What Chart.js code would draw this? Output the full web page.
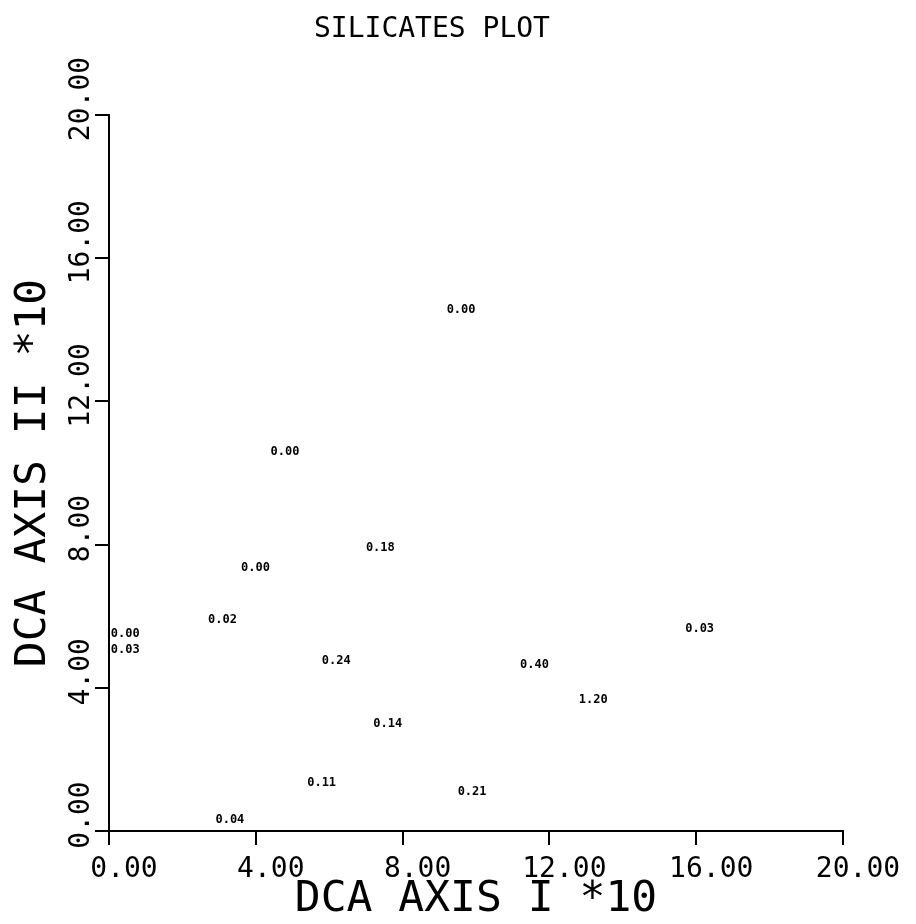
<!DOCTYPE html>
<html>
<head>
<meta charset="utf-8">
<script src="https://cdn.jsdelivr.net/npm/chart.js@4"></script>
<style>
  html, body { margin: 0; padding: 0; background: #fff; }
  #wrap { width: 916px; height: 924px; }
</style>
</head>
<body>
<div id="wrap"><canvas id="myChart"></canvas></div>
<script>
// sample positions (DCA axis scores *10)
const xValues = [0.05, 0.05, 2.7, 3.6, 4.4, 7.0, 5.8, 7.2, 5.4, 9.5, 2.9, 9.2, 11.2, 12.8, 15.7];
const yValues = [5.5, 5.05, 5.9, 7.35, 10.6, 7.9, 4.75, 3.0, 1.35, 1.1, 0.3, 14.55, 4.65, 3.65, 5.65];
const pointLabels = ['0.00', '0.03', '0.02', '0.00', '0.00', '0.18', '0.24', '0.14', '0.11', '0.21', '0.04', '0.00', '0.40', '1.20', '0.03'];
const tickValues = [0, 4, 8, 12, 16, 20];

const mono = "'DejaVu Sans Mono'";

// draws each sample's value as text at its point
const labelPlugin = {
  id: 'pointText',
  afterDatasetsDraw(chart) {
    const ctx = chart.ctx;
    const meta = chart.getDatasetMeta(0);
    ctx.save();
    ctx.fillStyle = 'black';
    ctx.font = 'bold 12px ' + mono;
    ctx.textAlign = 'left';
    ctx.textBaseline = 'middle';
    meta.data.forEach((pt, i) => {
      ctx.fillText(pointLabels[i], pt.x, pt.y);
    });
    ctx.restore();
  }
};

// title sits a bit left of centre in the original
const titlePlugin = {
  id: 'plotTitle',
  afterDraw(chart) {
    const ctx = chart.ctx;
    const a = chart.chartArea;
    ctx.save();
    ctx.fillStyle = 'black';
    ctx.font = '28px ' + mono;
    ctx.textAlign = 'center';
    ctx.textBaseline = 'middle';
    ctx.fillText('SILICATES PLOT', a.left + (a.right - a.left) * 0.44, 30);
    ctx.restore();
  }
};

const ctx = document.getElementById('myChart');

new Chart(ctx, {
  type: 'scatter',
  data: {
    datasets: [{
      label: 'Silicates',
      data: xValues.map((x, i) => ({ x: x, y: yValues[i] })),
      pointRadius: 0,
      pointHoverRadius: 0,
      showLine: false
    }]
  },
  plugins: [labelPlugin, titlePlugin],
  options: {
    responsive: true,
    maintainAspectRatio: false,
    animation: false,
    layout: {
      padding: { top: 115, right: 73, bottom: 0, left: 0 }
    },
    plugins: {
      legend: { display: false },
      tooltip: { enabled: false },
      title: { display: false }
    },
    scales: {
      x: {
        type: 'linear',
        min: 0,
        max: 20,
        afterBuildTicks: (scale) => { scale.ticks = tickValues.map(v => ({ value: v })); },
        afterFit: (scale) => { scale.height = 93; },
        border: { display: true, color: 'black', width: 2 },
        grid: { display: true, drawOnChartArea: false, drawTicks: true, tickLength: 14, color: 'black', lineWidth: 2 },
        ticks: {
          color: 'black',
          padding: 8,
          labelOffset: 15,
          autoSkip: false,
          maxRotation: 0,
          font: { family: mono, size: 28 },
          callback: (v) => Number(v).toFixed(2)
        },
        title: {
          display: true,
          text: 'DCA AXIS I *10',
          color: 'black',
          font: { family: mono, size: 43 },
          padding: { top: 0, bottom: -2 }
        }
      },
      y: {
        type: 'linear',
        min: 0,
        max: 20,
        afterBuildTicks: (scale) => { scale.ticks = tickValues.map(v => ({ value: v })); },
        afterFit: (scale) => { scale.width = 109; },
        border: { display: true, color: 'black', width: 2 },
        grid: { display: true, drawOnChartArea: false, drawTicks: true, tickLength: 14, color: 'black', lineWidth: 2 },
        ticks: {
          color: 'black',
          minRotation: 90,
          maxRotation: 90,
          crossAlign: 'center',
          padding: -29,
          labelOffset: -16,
          autoSkip: false,
          font: { family: mono, size: 28 },
          callback: (v) => Number(v).toFixed(2)
        },
        title: {
          display: true,
          text: 'DCA AXIS II *10',
          color: 'black',
          font: { family: mono, size: 43 },
          padding: { top: 8, bottom: 0 }
        }
      }
    }
  }
});
</script>
</body>
</html>
